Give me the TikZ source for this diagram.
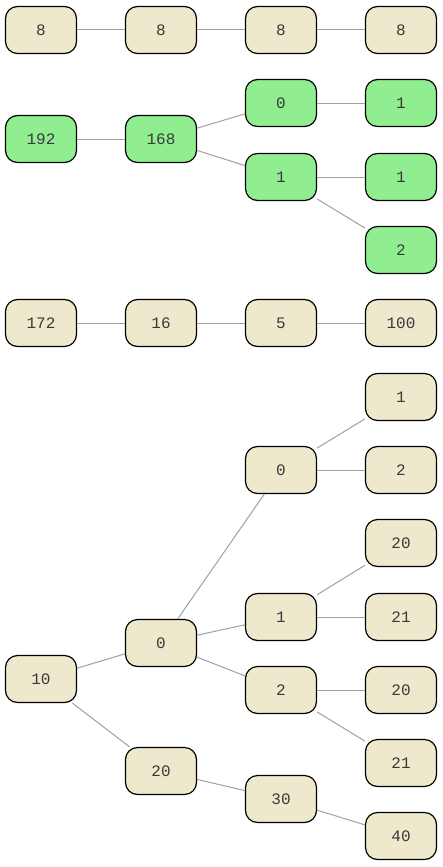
\documentclass[tikz,border=0pt]{standalone}
\usepackage{fontspec}
\setmonofont{Liberation Mono}
\definecolor{beige}{HTML}{EEE8CD}
\definecolor{lgreen}{HTML}{90EE90}
\definecolor{txt}{HTML}{3A3A3A}
\definecolor{edgegray}{HTML}{A0A0A0}
\begin{document}
\begin{tikzpicture}[x=1pt,y=-1pt,
  box/.style={draw=black, line width=1.2pt, rounded corners=12pt, minimum width=71pt, minimum height=47pt, inner sep=0pt, text=txt, font=\ttfamily\fontsize{16}{16}\selectfont},
  tan/.style={box, fill=beige},
  grn/.style={box, fill=lgreen},
  link/.style={draw=edgegray, line width=1pt}]
\useasboundingbox (0,0) rectangle (443,867);
% row 1
\node[tan] (a1) at (41,30) {8};
\node[tan] (a2) at (161,30) {8};
\node[tan] (a3) at (281,30) {8};
\node[tan] (a4) at (401,30) {8};
% row 2 green
\node[grn] (b1) at (41,139) {192};
\node[grn] (b2) at (161,139) {168};
\node[grn] (b3) at (281,103) {0};
\node[grn] (b4) at (401,103) {1};
\node[grn] (b5) at (281,177) {1};
\node[grn] (b6) at (401,177) {1};
\node[grn] (b7) at (401,250) {2};
% row 3
\node[tan] (c1) at (41,323) {172};
\node[tan] (c2) at (161,323) {16};
\node[tan] (c3) at (281,323) {5};
\node[tan] (c4) at (401,323) {100};
% bottom tree
\node[tan] (d10) at (41,679) {10};
\node[tan] (d0) at (161,643) {0};
\node[tan] (d20) at (161,771) {20};
\node[tan] (e0) at (281,470) {0};
\node[tan] (e1) at (281,617) {1};
\node[tan] (e2) at (281,690) {2};
\node[tan] (e30) at (281,799) {30};
\node[tan] (f1) at (401,397) {1};
\node[tan] (f2) at (401,470) {2};
\node[tan] (f20a) at (401,543) {20};
\node[tan] (f21a) at (401,617) {21};
\node[tan] (f20b) at (401,690) {20};
\node[tan] (f21b) at (401,763) {21};
\node[tan] (f40) at (401,836) {40};
% edges
\draw[link] (a1) -- (a2);
\draw[link] (a2) -- (a3);
\draw[link] (a3) -- (a4);
\draw[link] (b1) -- (b2);
\draw[link] (b2) -- (b3);
\draw[link] (b2) -- (b5);
\draw[link] (b3) -- (b4);
\draw[link] (b5) -- (b6);
\draw[link] (b5) -- (b7);
\draw[link] (c1) -- (c2);
\draw[link] (c2) -- (c3);
\draw[link] (c3) -- (c4);
\draw[link] (d10) -- (d0);
\draw[link] (d10) -- (d20);
\draw[link] (d0) -- (e0);
\draw[link] (d0) -- (e1);
\draw[link] (d0) -- (e2);
\draw[link] (d20) -- (e30);
\draw[link] (e0) -- (f1);
\draw[link] (e0) -- (f2);
\draw[link] (e1) -- (f20a);
\draw[link] (e1) -- (f21a);
\draw[link] (e2) -- (f20b);
\draw[link] (e2) -- (f21b);
\draw[link] (e30) -- (f40);
\end{tikzpicture}
\end{document}
